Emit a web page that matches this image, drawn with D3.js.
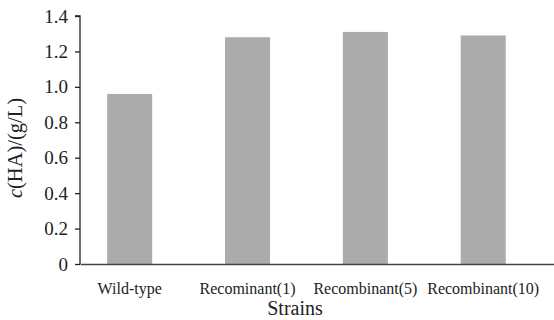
<!DOCTYPE html>
<html>
<head>
<meta charset="utf-8">
<script src="https://cdn.jsdelivr.net/npm/d3@7"></script>
<style>
  body { margin: 0; background: #fff; }
</style>
</head>
<body>
<svg id="chart" width="554" height="320"></svg>
<script>
var strains = ['Wild-type', 'Recominant(1)', 'Recombinant(5)', 'Recombinant(10)'];
var concentration = [0.96, 1.28, 1.31, 1.29];
var yTickValues = [0, 0.2, 0.4, 0.6, 0.8, 1.0, 1.2, 1.4];

var serif = 'Liberation Serif';

var svg = d3.select('#chart');
var margin = { top: 16, right: 0, bottom: 56, left: 80 };
var width = +svg.attr('width') - margin.left - margin.right;
var height = +svg.attr('height') - margin.top - margin.bottom;

var data = strains.map(function(name, i) {
  return { name: name, value: concentration[i] };
});

var x = d3.scaleBand()
  .domain(strains)
  .range([0, width])
  .paddingInner(0.618)
  .paddingOuter(0.32)
  .align(0.36);

var y = d3.scaleLinear()
  .domain([0, 1.4])
  .range([height, 0]);

var g = svg.append('g')
  .attr('transform', 'translate(' + margin.left + ',' + margin.top + ')');

g.selectAll('.bar')
  .data(data)
  .enter().append('rect')
  .attr('class', 'bar')
  .attr('x', function(d) { return x(d.name); })
  .attr('y', function(d) { return y(d.value); })
  .attr('width', x.bandwidth())
  .attr('height', function(d) { return height - y(d.value); })
  .attr('fill', '#ababab');

// y axis
var yAxis = g.append('g')
  .attr('class', 'axis axis--y')
  .call(d3.axisLeft(y)
    .tickValues(yTickValues)
    .tickSize(5)
    .tickPadding(7)
    .tickFormat(function(d) { return d === 0 ? '0' : d3.format('.1f')(d); }));
yAxis.attr('font-family', serif).attr('font-size', 19);
yAxis.select('.domain').attr('stroke', '#222').attr('stroke-width', 1.3).attr('d', 'M-5,0H0V' + height);
yAxis.selectAll('.tick line').attr('stroke', '#222').attr('stroke-width', 1.3);
yAxis.selectAll('.tick text').attr('fill', '#222');

// x axis
var xAxis = g.append('g')
  .attr('class', 'axis axis--x')
  .attr('transform', 'translate(0,' + height + ')')
  .call(d3.axisBottom(x).tickSize(0).tickPadding(19));
xAxis.attr('font-family', serif).attr('font-size', 16);
xAxis.select('.domain').attr('stroke', '#444').attr('stroke-width', 1.3);
xAxis.selectAll('.tick text').attr('fill', '#222');

// axis titles
svg.append('text')
  .attr('x', 295)
  .attr('y', 315)
  .attr('text-anchor', 'middle')
  .attr('font-family', serif)
  .attr('font-size', 20)
  .attr('fill', '#222')
  .text('Strains');

var yLabel = svg.append('text')
  .attr('transform', 'translate(22,' + (margin.top + height / 2 + 8) + ') rotate(-90)')
  .attr('text-anchor', 'middle')
  .attr('font-family', serif)
  .attr('font-size', 20.5)
  .attr('fill', '#222');
yLabel.append('tspan').attr('font-style', 'italic').text('c');
yLabel.append('tspan').text('(HA)/(g/L)');
</script>
</body>
</html>
